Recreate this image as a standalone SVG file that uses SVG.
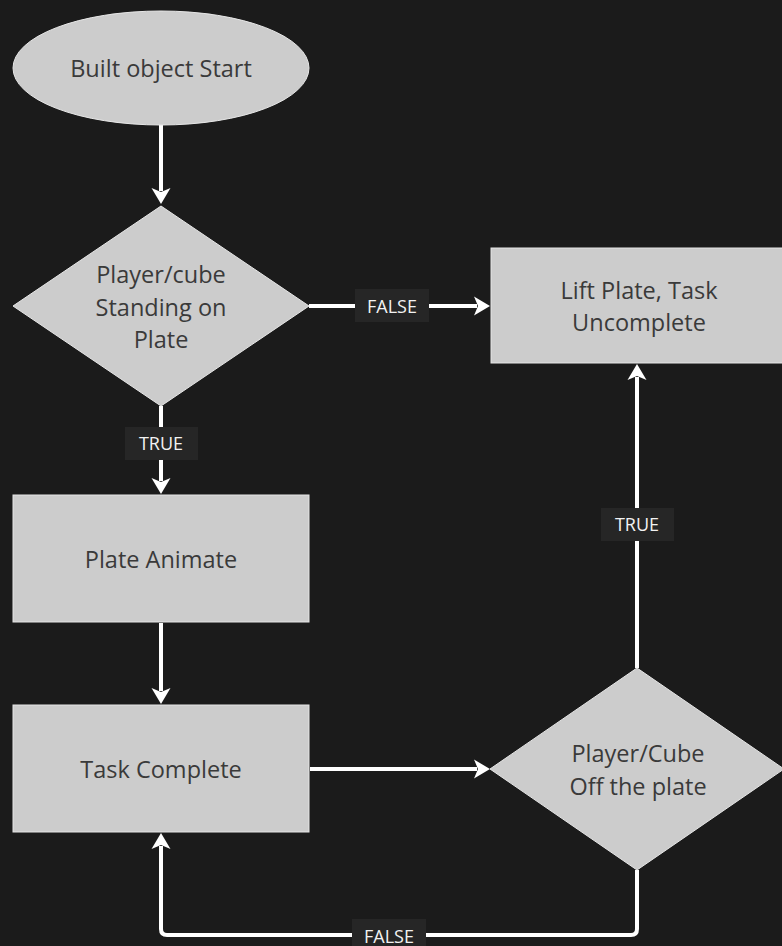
<svg xmlns="http://www.w3.org/2000/svg" width="782" height="946" viewBox="0 0 782 946">
  <style>
    .node { fill: #cccccc; stroke: #e6e6e6; stroke-width: 1; }
    .ntext { font-family: "Open Sans", "Liberation Sans", sans-serif; font-size: 23.5px; fill: #3a3a3a; text-anchor: middle; dominant-baseline: central; }
    .edge { fill: none; stroke: #ffffff; stroke-width: 4; }
    .lbox { fill: #262626; }
    .ltext { font-family: "Open Sans", "Liberation Sans", sans-serif; font-size: 18px; fill: #f2f2f2; text-anchor: middle; dominant-baseline: central; }
  </style>
  <defs>
    <marker id="arrow" markerUnits="userSpaceOnUse" markerWidth="24" markerHeight="24" viewBox="-4 -12 24 24" refX="0" refY="0" orient="auto">
      <path d="M-3,-9.5 L13,0 L-3,9.5 L1,0 Z" fill="#ffffff"/>
    </marker>
  </defs>
  <rect width="782" height="946" fill="#1b1b1b"/>

  <g id="connectors">
    <path class="edge" d="M161,125 V191" marker-end="url(#arrow)"/>
    <path class="edge" d="M309,306 H477" marker-end="url(#arrow)"/>
    <path class="edge" d="M161,406 V481" marker-end="url(#arrow)"/>
    <path class="edge" d="M161,623 V691" marker-end="url(#arrow)"/>
    <path class="edge" d="M310,769 H477" marker-end="url(#arrow)"/>
    <path class="edge" d="M637,668 V377" marker-end="url(#arrow)"/>
    <path class="edge" d="M637,870 V929 Q637,935 631,935 H167 Q161,935 161,929 V846" marker-end="url(#arrow)"/>
    <g id="label-false-1">
      <rect class="lbox" x="355" y="289" width="74" height="33"/>
      <text class="ltext" x="392" y="306">FALSE</text>
    </g>
    <g id="label-true-1">
      <rect class="lbox" x="125" y="427" width="73" height="33"/>
      <text class="ltext" x="161" y="443">TRUE</text>
    </g>
    <g id="label-true-2">
      <rect class="lbox" x="601" y="508" width="73" height="33"/>
      <text class="ltext" x="637" y="524">TRUE</text>
    </g>
    <g id="label-false-2">
      <rect class="lbox" x="352" y="919" width="74" height="33"/>
      <text class="ltext" x="389" y="936">FALSE</text>
    </g>
  </g>

  <g id="start">
    <ellipse class="node" cx="161" cy="68" rx="148" ry="57"/>
    <text class="ntext" x="161" y="68">Built object Start</text>
  </g>

  <g id="standing-check">
    <polygon class="node" points="161,206 309,306 161,406 13,306"/>
    <text class="ntext" x="161" y="274">Player/cube</text>
    <text class="ntext" x="161" y="307">Standing on</text>
    <text class="ntext" x="161" y="339">Plate</text>
  </g>

  <g id="lift-plate">
    <rect class="node" x="491" y="248" width="296" height="115"/>
    <text class="ntext" x="639" y="290">Lift Plate, Task</text>
    <text class="ntext" x="639" y="322">Uncomplete</text>
  </g>

  <g id="plate-animate">
    <rect class="node" x="13" y="495" width="296" height="127"/>
    <text class="ntext" x="161" y="559">Plate Animate</text>
  </g>

  <g id="task-complete">
    <rect class="node" x="13" y="705" width="296" height="127"/>
    <text class="ntext" x="161" y="769">Task Complete</text>
  </g>

  <g id="off-plate-check">
    <polygon class="node" points="637,668 784,769 637,870 490,769"/>
    <text class="ntext" x="638" y="753">Player/Cube</text>
    <text class="ntext" x="638" y="786">Off the plate</text>
  </g>
</svg>
